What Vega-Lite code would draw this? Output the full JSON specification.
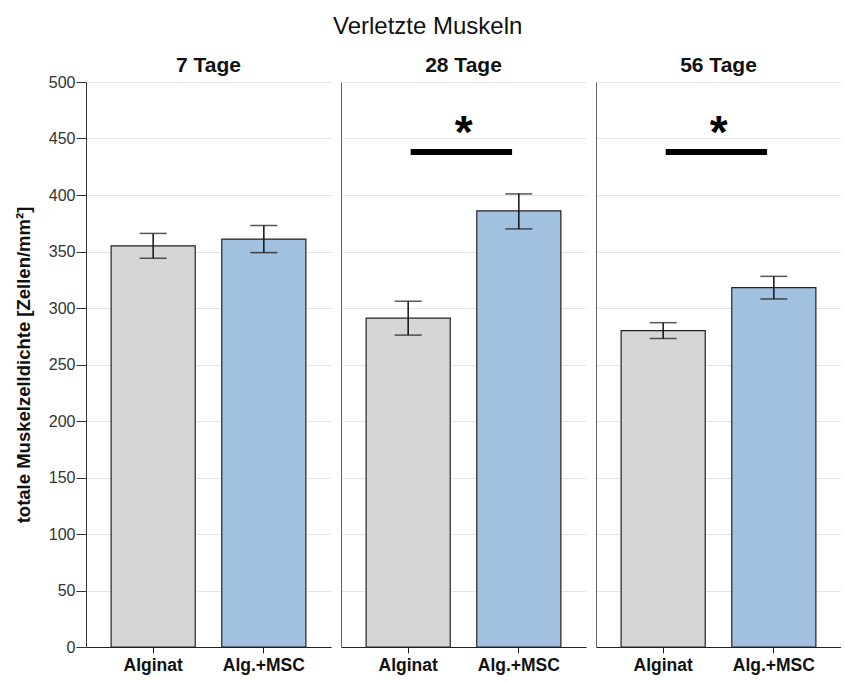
{
  "$schema": "https://vega.github.io/schema/vega-lite/v6.json",
  "background": "white",
  "padding": {"left": 14, "top": 15, "right": 0, "bottom": 4},
  "datasets": {
    "bars": [
      {"tage": "7 Tage", "gruppe": "Alginat", "mittel": 355, "unten": 344, "oben": 366},
      {"tage": "7 Tage", "gruppe": "Alg.+MSC", "mittel": 361, "unten": 349, "oben": 373},
      {"tage": "28 Tage", "gruppe": "Alginat", "mittel": 291, "unten": 276, "oben": 306},
      {"tage": "28 Tage", "gruppe": "Alg.+MSC", "mittel": 386, "unten": 370, "oben": 401},
      {"tage": "56 Tage", "gruppe": "Alginat", "mittel": 280, "unten": 273, "oben": 287},
      {"tage": "56 Tage", "gruppe": "Alg.+MSC", "mittel": 318, "unten": 308, "oben": 328}
    ],
    "sig": [
      {"tage": "28 Tage", "von": "Alginat", "bis": "Alg.+MSC", "hoehe": 438, "stern": "*"},
      {"tage": "56 Tage", "von": "Alginat", "bis": "Alg.+MSC", "hoehe": 438, "stern": "*"}
    ]
  },
  "title": {
    "text": "Verletzte Muskeln",
    "fontSize": 24,
    "fontWeight": "normal",
    "font": "Liberation Sans Narrow, Liberation Sans",
    "color": "#111",
    "anchor": "middle",
    "frame": "bounds",
    "offset": 16
  },
  "spacing": 10,
  "hconcat": [
    {
      "width": 245,
      "height": 565,
      "title": {"text": "7 Tage", "offset": -2},
      "data": {"name": "bars"},
      "transform": [{"filter": "datum.tage === '7 Tage'"}],
      "encoding": {
        "x": {
          "field": "gruppe", "type": "nominal", "sort": ["Alginat", "Alg.+MSC"],
          "scale": {"paddingInner": 0.24, "paddingOuter": 0.227},
          "axis": {"title": null, "labelAngle": 0}
        }
      },
      "layer": [
        {
          "mark": {"type": "bar", "stroke": "#222", "strokeWidth": 1.2},
          "encoding": {
            "y": {"field": "mittel", "type": "quantitative", "scale": {"domain": [0, 500]},
              "axis": {"title": "totale Muskelzelldichte [Zellen/mm²]", "values": [0,50,100,150,200,250,300,350,400,450,500], "labels": true, "ticks": true, "tickSize": 10, "domainColor": "#333", "tickColor": "#333"}},
            "fill": {"field": "gruppe", "type": "nominal", "scale": {"domain": ["Alginat", "Alg.+MSC"], "range": ["#d6d6d6", "#a2c0df"]}, "legend": null}
          }
        },
        {
          "mark": {"type": "rule", "color": "#111", "strokeWidth": 1.5},
          "encoding": {"y": {"field": "unten", "type": "quantitative"}, "y2": {"field": "oben"}}
        },
        {
          "mark": {"type": "tick", "color": "#111", "thickness": 1.5, "size": 27},
          "encoding": {"y": {"field": "unten", "type": "quantitative"}}
        },
        {
          "mark": {"type": "tick", "color": "#111", "thickness": 1.5, "size": 27},
          "encoding": {"y": {"field": "oben", "type": "quantitative"}}
        }
      ]
    },
    {
      "width": 245,
      "height": 565,
      "title": {"text": "28 Tage"},
      "data": {"name": "bars"},
      "transform": [{"filter": "datum.tage === '28 Tage'"}],
      "encoding": {
        "x": {
          "field": "gruppe", "type": "nominal", "sort": ["Alginat", "Alg.+MSC"],
          "scale": {"domain": ["Alginat", "Alg.+MSC"], "paddingInner": 0.24, "paddingOuter": 0.227},
          "axis": {"title": null, "labelAngle": 0}
        }
      },
      "layer": [
        {
          "mark": {"type": "bar", "stroke": "#222", "strokeWidth": 1.2},
          "encoding": {
            "y": {"field": "mittel", "type": "quantitative", "scale": {"domain": [0, 500]},
              "axis": {"title": null, "labels": false, "ticks": false, "domainColor": "#666", "values": [0,50,100,150,200,250,300,350,400,450,500]}},
            "fill": {"field": "gruppe", "type": "nominal", "scale": {"domain": ["Alginat", "Alg.+MSC"], "range": ["#d6d6d6", "#a2c0df"]}, "legend": null}
          }
        },
        {
          "mark": {"type": "rule", "color": "#111", "strokeWidth": 1.5},
          "encoding": {"y": {"field": "unten", "type": "quantitative"}, "y2": {"field": "oben"}}
        },
        {
          "mark": {"type": "tick", "color": "#111", "thickness": 1.5, "size": 27},
          "encoding": {"y": {"field": "unten", "type": "quantitative"}}
        },
        {
          "mark": {"type": "tick", "color": "#111", "thickness": 1.5, "size": 27},
          "encoding": {"y": {"field": "oben", "type": "quantitative"}}
        },
        {
          "data": {"name": "sig"},
          "transform": [{"filter": "datum.tage === '28 Tage'"}],
          "mark": {"type": "rule", "color": "#000", "strokeWidth": 6},
          "encoding": {
            "x": {"field": "von", "type": "nominal", "bandPosition": 0.53},
            "x2": {"field": "bis", "bandPosition": 0.42},
            "y": {"field": "hoehe", "type": "quantitative"}
          }
        },
        {
          "data": {"name": "sig"},
          "transform": [{"filter": "datum.tage === '28 Tage'"}],
          "mark": {"type": "text", "color": "#000", "fontSize": 46, "fontWeight": "bold", "font": "Liberation Sans", "baseline": "bottom", "align": "center", "dy": 6},
          "encoding": {
            "x": {"field": "von", "type": "nominal", "bandPosition": 1.16},
            "y": {"field": "hoehe", "type": "quantitative"},
            "text": {"field": "stern"}
          }
        }
      ]
    },
    {
      "width": 245,
      "height": 565,
      "title": {"text": "56 Tage"},
      "data": {"name": "bars"},
      "transform": [{"filter": "datum.tage === '56 Tage'"}],
      "encoding": {
        "x": {
          "field": "gruppe", "type": "nominal", "sort": ["Alginat", "Alg.+MSC"],
          "scale": {"domain": ["Alginat", "Alg.+MSC"], "paddingInner": 0.24, "paddingOuter": 0.227},
          "axis": {"title": null, "labelAngle": 0}
        }
      },
      "layer": [
        {
          "mark": {"type": "bar", "stroke": "#222", "strokeWidth": 1.2},
          "encoding": {
            "y": {"field": "mittel", "type": "quantitative", "scale": {"domain": [0, 500]},
              "axis": {"title": null, "labels": false, "ticks": false, "domainColor": "#666", "values": [0,50,100,150,200,250,300,350,400,450,500]}},
            "fill": {"field": "gruppe", "type": "nominal", "scale": {"domain": ["Alginat", "Alg.+MSC"], "range": ["#d6d6d6", "#a2c0df"]}, "legend": null}
          }
        },
        {
          "mark": {"type": "rule", "color": "#111", "strokeWidth": 1.5},
          "encoding": {"y": {"field": "unten", "type": "quantitative"}, "y2": {"field": "oben"}}
        },
        {
          "mark": {"type": "tick", "color": "#111", "thickness": 1.5, "size": 27},
          "encoding": {"y": {"field": "unten", "type": "quantitative"}}
        },
        {
          "mark": {"type": "tick", "color": "#111", "thickness": 1.5, "size": 27},
          "encoding": {"y": {"field": "oben", "type": "quantitative"}}
        },
        {
          "data": {"name": "sig"},
          "transform": [{"filter": "datum.tage === '56 Tage'"}],
          "mark": {"type": "rule", "color": "#000", "strokeWidth": 6},
          "encoding": {
            "x": {"field": "von", "type": "nominal", "bandPosition": 0.53},
            "x2": {"field": "bis", "bandPosition": 0.42},
            "y": {"field": "hoehe", "type": "quantitative"}
          }
        },
        {
          "data": {"name": "sig"},
          "transform": [{"filter": "datum.tage === '56 Tage'"}],
          "mark": {"type": "text", "color": "#000", "fontSize": 46, "fontWeight": "bold", "font": "Liberation Sans", "baseline": "bottom", "align": "center", "dy": 6},
          "encoding": {
            "x": {"field": "von", "type": "nominal", "bandPosition": 1.16},
            "y": {"field": "hoehe", "type": "quantitative"},
            "text": {"field": "stern"}
          }
        }
      ]
    }
  ],
  "config": {
    "view": {"stroke": null},
    "title": {"fontSize": 21, "fontWeight": "bold", "font": "Liberation Sans Narrow, Liberation Sans", "color": "#111", "offset": 6},
    "axis": {
      "labelFont": "Liberation Sans",
      "titleFont": "Liberation Sans",
      "grid": false
    },
    "axisY": {
      "grid": true,
      "gridColor": "#e4e4e4",
      "gridWidth": 1,
      "labelFontSize": 16,
      "labelColor": "#333",
      "labelFont": "Liberation Sans",
      "labelPadding": 1,
      "titleFontSize": 18.5,
      "titleFontWeight": "bold",
      "titleColor": "#111",
      "titlePadding": 15,
      "domainWidth": 1
    },
    "axisX": {
      "domainColor": "#222",
      "tickColor": "#222",
      "tickSize": 6,
      "labelFontSize": 17.5,
      "labelFontWeight": "bold",
      "labelColor": "#111",
      "labelPadding": 3,
      "domainWidth": 1
    }
  }
}
